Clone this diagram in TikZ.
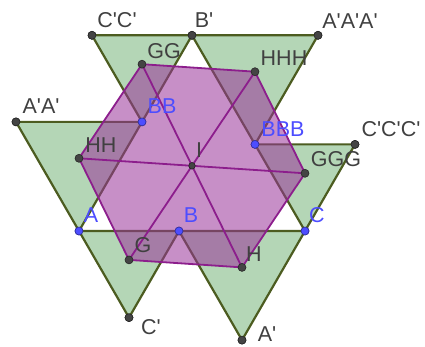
\documentclass[tikz,border=0pt]{standalone}
\usepackage{fontspec}
\setmainfont{Liberation Sans}
\newcommand{\qq}{\textquotesingle}
\definecolor{edgeol}{RGB}{76,92,32}
\definecolor{fillgr}{RGB}{180,214,182}
\definecolor{hexfill}{RGB}{153,51,153}
\definecolor{hexline}{RGB}{140,30,140}
\definecolor{ptblue}{RGB}{77,77,255}
\definecolor{ptgray}{RGB}{68,68,68}
\definecolor{labgray}{RGB}{64,64,64}
\begin{document}
\begin{tikzpicture}[x=1pt,y=-1pt,
  tri/.style={fill=fillgr, draw=edgeol, line width=2.2pt, line join=round},
  hex/.style={fill=hexfill, fill opacity=0.55, draw=hexline, line width=1.8pt, line join=round},
  diag/.style={draw=hexline, line width=1.8pt},
  free/.style={circle, fill=ptblue, draw=ptblue!60!black, line width=0.6pt, minimum size=8pt, inner sep=0pt},
  dep/.style={circle, fill=ptgray, draw=black!85, line width=0.6pt, minimum size=8pt, inner sep=0pt},
  lab/.style={text=labgray, inner sep=0pt, font=\fontsize{21.5}{25}\selectfont},
  labb/.style={lab, text=ptblue}]
\useasboundingbox (0,0) rectangle (425,347);
% points
\node[free] (A) at (79,231) {};
\node[free] (B) at (179,231) {};
\node[free] (C) at (305,231) {};
\node[dep] (Cp) at (129,317.6) {};
\node[dep] (Ap) at (242,340.1) {};
\node[free] (BB) at (142,121.9) {};
\node[dep] (ApAp) at (16,121.9) {};
\node[dep] (Bp) at (192,35.3) {};
\node[dep] (CpCp) at (92,35.3) {};
\node[free] (BBB) at (255,144.4) {};
\node[dep] (ApApAp) at (318,35.3) {};
\node[dep] (CpCpCp) at (355,144.4) {};
\node[dep] (G) at (129,259.9) {};
\node[dep] (H) at (242,267.4) {};
\node[dep] (GG) at (142,64.2) {};
\node[dep] (HH) at (79,158.3) {};
\node[dep] (HHH) at (255,71.7) {};
\node[dep] (GGG) at (305,173.3) {};
\node[dep, minimum size=6.5pt] (I) at (192,165.8) {};
% green triangles
\path[tri] (A.center) -- (B.center) -- (Cp.center) -- cycle;
\path[tri] (B.center) -- (C.center) -- (Ap.center) -- cycle;
\path[tri] (A.center) -- (BB.center) -- (ApAp.center) -- cycle;
\path[tri] (BB.center) -- (Bp.center) -- (CpCp.center) -- cycle;
\path[tri] (Bp.center) -- (BBB.center) -- (ApApAp.center) -- cycle;
\path[tri] (BBB.center) -- (C.center) -- (CpCpCp.center) -- cycle;
% hexagon
\path[hex] (G.center) -- (H.center) -- (GGG.center) -- (HHH.center) -- (GG.center) -- (HH.center) -- cycle;
\draw[diag] (G.center) -- (HHH.center);
\draw[diag] (GG.center) -- (H.center);
\draw[diag] (HH.center) -- (GGG.center);
% redraw points on top
\foreach \n in {Cp,Ap,ApAp,Bp,CpCp,ApApAp,CpCpCp,G,H,GG,HH,HHH,GGG}{\node[dep] at (\n) {};}
\node[dep, minimum size=6.5pt] at (I) {};
\foreach \n in {A,B,C,BB,BBB}{\node[free] at (\n) {};}
% labels
\node[lab] (lCpCp) at (117,20) {C\qq C\qq};
\node[lab] (lBp) at (204,20) {B\qq};
\node[lab] (lApApAp) at (350,21) {A\qq A\qq A\qq};
\node[lab] (lGG) at (164,51) {GG};
\node[lab] (lHHH) at (284,58) {HHH};
\node[lab] (lApAp) at (41,106) {A\qq A\qq};
\node[labb] (lBB) at (162,106) {BB};
\node[labb] (lBBB) at (283,129) {BBB};
\node[lab] (lCpCpCp) at (391,129) {C\qq C\qq C\qq};
\node[lab] (lHH) at (101,145) {HH};
\node[lab] (lI) at (199,150) {I};
\node[lab] (lGGG) at (336,159) {GGG};
\node[labb] (lA) at (91,215) {A};
\node[labb] (lB) at (191,215) {B};
\node[labb] (lC) at (317,215) {C};
\node[lab] (lG) at (143,245) {G};
\node[lab] (lH) at (254,254) {H};
\node[lab] (lCp) at (151,327) {C\qq};
\node[lab] (lAp) at (267,334) {A\qq};
\end{tikzpicture}
\end{document}
